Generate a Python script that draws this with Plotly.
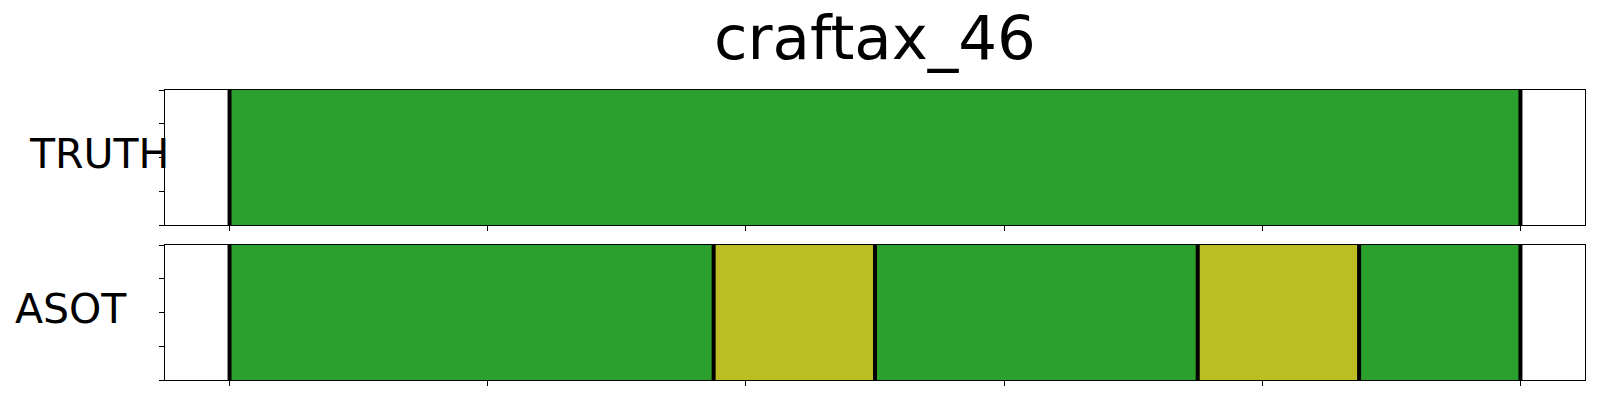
import plotly.graph_objects as go

# ---- data ----
title_text = "craftax_46"
row_names = ["TRUTH", "ASOT"]
class_colors = ["#2ca02c", "#bcbd22"]

truth_bounds = [0, 100]
truth_labels = [0]

asot_bounds = [0, 37.5, 50, 75, 87.5, 100]
asot_labels = [0, 1, 0, 1, 0]

x_ticks = [0, 20, 40, 60, 80, 100]
y_ticks = [0, 0.25, 0.5, 0.75, 1]

# ---- layout geometry (pixels) ----
OFF = 8  # default page body margin
W, H = 1600 - OFF, 400 - OFF
ML, MR, MT, MB = 165 - OFF, 15, 90 - OFF, 20
PH = H - MT - MB
PW = W - ML - MR


def py(p):
    # p: page pixel y
    return (H - MB - (p - OFF)) / PH


def px(p):
    return ((p - OFF) - ML) / PW


fig = go.Figure()

rows = [(truth_bounds, truth_labels, "x", "y"), (asot_bounds, asot_labels, "x2", "y2")]
for bounds, labels, xa, ya in rows:
    starts = bounds[:-1]
    widths = [b - a for a, b in zip(bounds[:-1], bounds[1:])]
    fig.add_trace(go.Bar(
        orientation="h",
        y=[0.5] * len(starts),
        x=widths,
        base=starts,
        width=1,
        marker=dict(color=[class_colors[l] for l in labels], line=dict(width=0)),
        xaxis=xa, yaxis=ya, showlegend=False, hoverinfo="skip",
    ))
    for b in bounds:
        fig.add_trace(go.Scatter(
            x=[b, b], y=[0, 1], mode="lines",
            line=dict(color="black", width=4),
            xaxis=xa, yaxis=ya, showlegend=False, hoverinfo="skip",
        ))

axis_common = dict(
    showline=True, mirror=True, linecolor="black", linewidth=1,
    ticks="outside", ticklen=5, tickwidth=1, tickcolor="black",
    showticklabels=False, showgrid=False, zeroline=False,
)

fig.update_layout(
    width=W, height=H,
    margin=dict(l=ML, r=MR, t=MT, b=MB),
    paper_bgcolor="white", plot_bgcolor="white",
    barmode="overlay",
    font=dict(family="DejaVu Sans", color="black"),
    xaxis=dict(range=[-5, 105], tickvals=x_ticks, anchor="y", domain=[0, 1], **axis_common),
    yaxis=dict(range=[0, 1], tickvals=y_ticks, domain=[py(225), 1], anchor="x", **axis_common),
    xaxis2=dict(range=[-5, 105], tickvals=x_ticks, anchor="y2", domain=[0, 1], **axis_common),
    yaxis2=dict(range=[0, 1], tickvals=y_ticks, domain=[0, py(245)], anchor="x2", **axis_common),
)

fig.add_annotation(text=title_text, xref="paper", yref="paper", x=0.5, y=py(37.5),
                   xanchor="center", yanchor="middle", showarrow=False,
                   font=dict(size=61, family="DejaVu Sans", color="black"))
fig.add_annotation(text=row_names[0], xref="paper", yref="paper", x=px(27), y=py(154),
                   xanchor="left", yanchor="middle", showarrow=False,
                   font=dict(size=41, family="DejaVu Sans", color="black"))
fig.add_annotation(text=row_names[1], xref="paper", yref="paper", x=px(13), y=py(308.5),
                   xanchor="left", yanchor="middle", showarrow=False,
                   font=dict(size=41, family="DejaVu Sans", color="black"))

fig.write_html("out.html")
